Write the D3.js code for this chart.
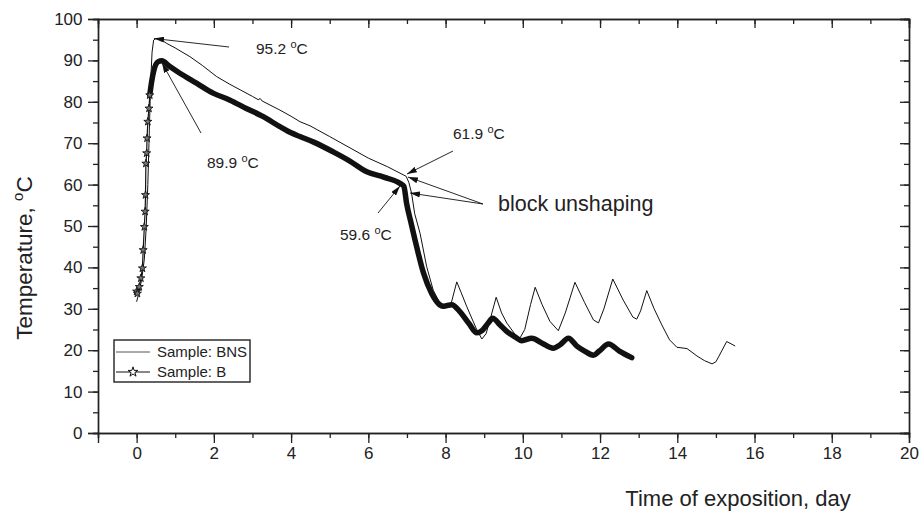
<!DOCTYPE html>
<html><head><meta charset="utf-8">
<script src="https://cdn.jsdelivr.net/npm/d3@7/dist/d3.min.js"></script>
<style>body{margin:0;background:#fff}svg{display:block;font-family:"Liberation Sans",Arial,sans-serif}</style>
</head><body><svg id="c" width="921" height="512"></svg>
<script>
const xTicks = [0,2,4,6,8,10,12,14,16,18,20];
const yTicks = [0,10,20,30,40,50,60,70,80,90,100];
const seriesNames = ["Sample: BNS","Sample: B"];
const bnsTime = [0.0,0.05,0.13,0.2,0.25,0.29,0.32,0.35,0.38,0.4,0.44,0.5,0.65,0.78,1.0,1.38,1.7,2.07,2.4,2.68,3.0,3.15,3.2,3.25,3.71,4.0,4.23,4.49,5.0,5.5,6.0,6.5,6.98,7.05,7.12,7.2,7.34,7.51,7.68,7.86,8.03,8.15,8.29,8.4,8.55,8.81,8.94,9.05,9.2,9.31,9.45,9.59,9.84,9.93,10.05,10.2,10.32,10.5,10.7,10.92,11.1,11.35,11.6,11.83,11.96,12.1,12.33,12.6,12.85,12.95,13.05,13.21,13.4,13.6,13.8,13.99,14.25,14.51,14.7,14.9,15.0,15.07,15.28,15.5];
const bnsTemp = [31.7,33.5,37,42,50,60,70,80,88,92,94.9,95.3,94.9,94.1,93,90.9,88.8,86.1,84.3,82.9,81.3,80.5,80.8,80.2,78,76.5,75.2,74.2,71.6,69.0,66.4,64.3,62.0,60.5,57.9,53,48.2,40.2,34.5,31.3,30.5,31.5,36.5,34,30.5,24.9,22.7,24,29,32.8,29,26.5,23.3,23.0,25,31,35.2,31,27,24.7,29,36.4,31.5,27.3,26.6,30,37.2,32.1,28,27.5,29.5,34.4,30,26.1,22.5,20.7,20.4,18.6,17.5,16.7,17.2,18.4,22.1,21.0];
const bRiseTime = [0.0,0.02,0.07,0.11,0.15,0.17,0.2,0.22,0.23,0.24,0.26,0.27,0.29,0.32,0.34];
const bRiseTemp = [34.2,33.7,35.3,37.4,39.8,44.2,49.8,53.5,57.5,65.1,67.6,71.2,75.2,78.4,81.6];
const bTime = [0.34,0.39,0.45,0.56,0.65,0.86,1.12,1.55,1.98,2.42,2.84,3.28,3.71,4.0,4.23,4.6,5.09,5.5,5.96,6.4,6.82,6.92,6.99,7.1,7.21,7.43,7.64,7.86,7.95,8.16,8.37,8.6,8.81,8.95,9.1,9.22,9.4,9.59,9.8,9.97,10.23,10.5,10.79,10.95,11.18,11.4,11.6,11.83,11.98,12.22,12.5,12.82];
const bTemp = [81.6,84.9,87.7,89.7,89.9,88.5,86.9,84.5,82.1,80.4,78.4,76.4,74,72.5,71.6,70.2,67.9,65.8,63.1,61.8,60.3,59.6,55.5,51,46.6,38.6,33.7,30.9,30.6,31.0,29.3,26.5,24.2,24.8,26.5,27.7,26.2,24.5,23.2,22.3,22.9,21.7,20.5,21.2,22.9,21,19.8,18.8,19.8,21.5,19.8,18.2];

const svg = d3.select("#c");
const x = d3.scaleLinear().domain([-1,20]).range([98,909]);
const y = d3.scaleLinear().domain([0,100]).range([433,19]);
const ink = "#222";
const FF = "Liberation Sans, Arial, sans-serif";

// axes
const minorX = d3.range(-1,21,1);
const minorY = d3.range(0,101,5);
const gB = svg.append("g").attr("transform","translate(0,433)")
  .call(d3.axisBottom(x).tickValues(minorX).tickSize(5).tickFormat(""));
const gBM = gB.append("g").call(d3.axisBottom(x).tickValues(xTicks).tickSize(10).tickFormat(d3.format("d")));
const gT = svg.append("g").attr("transform","translate(0,19)")
  .call(d3.axisBottom(x).tickValues(minorX).tickSize(5).tickFormat(""));
gT.append("g").call(d3.axisBottom(x).tickValues(xTicks).tickSize(9).tickFormat(""));
const gL = svg.append("g").attr("transform","translate(98,0)")
  .call(d3.axisLeft(y).tickValues(minorY).tickSize(5).tickFormat(""));
const gLM = gL.append("g").call(d3.axisLeft(y).tickValues(yTicks).tickSize(10).tickFormat(d3.format("d")));
const gR = svg.append("g").attr("transform","translate(909,0)")
  .call(d3.axisLeft(y).tickValues(minorY).tickSize(5).tickFormat(""));
gR.append("g").call(d3.axisLeft(y).tickValues(yTicks).tickSize(9).tickFormat(""));
svg.selectAll(".domain").attr("stroke",ink).attr("stroke-width",1.4);
svg.selectAll(".tick line").attr("stroke",ink).attr("stroke-width",1.3);
svg.selectAll(".tick text").attr("fill",ink).style("font-size","17px").style("font-family",FF);
gBM.selectAll(".tick text").attr("y",14).attr("dy","0.71em");
gLM.selectAll(".tick text").attr("x",-15.5);

// axis titles
const yt = svg.append("text").attr("transform","translate(32,258) rotate(-90)")
  .attr("text-anchor","middle").style("font-size","22.5px").attr("fill",ink);
yt.append("tspan").text("Temperature, ");
yt.append("tspan").style("font-size","15px").attr("dy",-9).text("o");
yt.append("tspan").attr("dy",9).text("C");
svg.append("text").attr("x",738).attr("y",506).attr("text-anchor","middle")
  .style("font-size","22px").attr("fill",ink).text("Time of exposition, day");

// data lines
const line = d3.line().x(d=>x(d[0])).y(d=>y(d[1]));
const smooth = d3.line().x(d=>x(d[0])).y(d=>y(d[1])).curve(d3.curveMonotoneX);
const bns = bnsTime.map((t,i)=>[t,bnsTemp[i]]);
const bRise = bRiseTime.map((t,i)=>[t,bRiseTemp[i]]);
const bMain = bTime.map((t,i)=>[t,bTemp[i]]);
svg.append("path").attr("d",line(bns)).attr("fill","none").attr("stroke","#111").attr("stroke-width",1).attr("stroke-linejoin","round");
svg.append("path").attr("d",line(bRise)).attr("fill","none").attr("stroke","#111").attr("stroke-width",1.2);
svg.append("path").attr("d",smooth(bMain)).attr("fill","none").attr("stroke","#111").attr("stroke-width",5.5).attr("stroke-linejoin","round").attr("stroke-linecap","round");
const star = d3.symbol().type(d3.symbolStar).size(20);
svg.selectAll(".st").data(bRise).join("path").attr("class","st")
  .attr("transform",d=>`translate(${x(d[0])},${y(d[1])})`).attr("d",star)
  .attr("fill","#777").attr("stroke","#111").attr("stroke-width",0.9);

// legend
const lg = svg.append("g");
lg.append("rect").attr("x",114).attr("y",340).attr("width",136).attr("height",42)
  .attr("fill","#fff").attr("stroke",ink).attr("stroke-width",1.4);
lg.append("line").attr("x1",116).attr("x2",150).attr("y1",352).attr("y2",352).attr("stroke","#555").attr("stroke-width",1);
lg.append("line").attr("x1",116).attr("x2",150).attr("y1",372).attr("y2",372).attr("stroke","#111").attr("stroke-width",1);
lg.append("path").attr("transform","translate(133,372)").attr("d",d3.symbol().type(d3.symbolStar).size(30)).attr("fill","#fff").attr("stroke","#111");
lg.selectAll(".lt").data(seriesNames).join("text").attr("class","lt")
  .attr("x",157).attr("y",(d,i)=>357+i*20).style("font-size","15px").attr("fill",ink).text(d=>d);

// annotations
const defs = svg.append("defs");
defs.append("marker").attr("id","ah").attr("viewBox","0 0 10 6").attr("refX",10).attr("refY",3)
  .attr("markerWidth",10).attr("markerHeight",6).attr("markerUnits","userSpaceOnUse").attr("orient","auto")
  .append("path").attr("d","M0,0L10,3L0,6Z").attr("fill","#111");
function arrow(x1,y1,x2,y2){
  svg.append("line").attr("x1",x1).attr("y1",y1).attr("x2",x2).attr("y2",y2)
   .attr("stroke","#111").attr("stroke-width",0.9).attr("marker-end","url(#ah)");
}
function degLabel(px,py,val){
  const t = svg.append("text").attr("x",px).attr("y",py).style("font-size","15.5px").attr("fill",ink);
  t.append("tspan").text(val+" ");
  t.append("tspan").style("font-size","11px").attr("dy",-6).text("o");
  t.append("tspan").attr("dy",6).text("C");
}
arrow(229,47,154,38.5);
degLabel(256,54,"95.2");
arrow(201,133,162,63);
degLabel(207,168,"89.9");
arrow(453,151,407,174);
degLabel(453,139,"61.9");
arrow(378,213,400,186);
degLabel(340,240,"59.6");
arrow(483,204,408,177);
arrow(483,204,410,193);
svg.append("text").attr("x",498).attr("y",211).style("font-size","21.5px").attr("fill",ink).text("block unshaping");
</script></body></html>
